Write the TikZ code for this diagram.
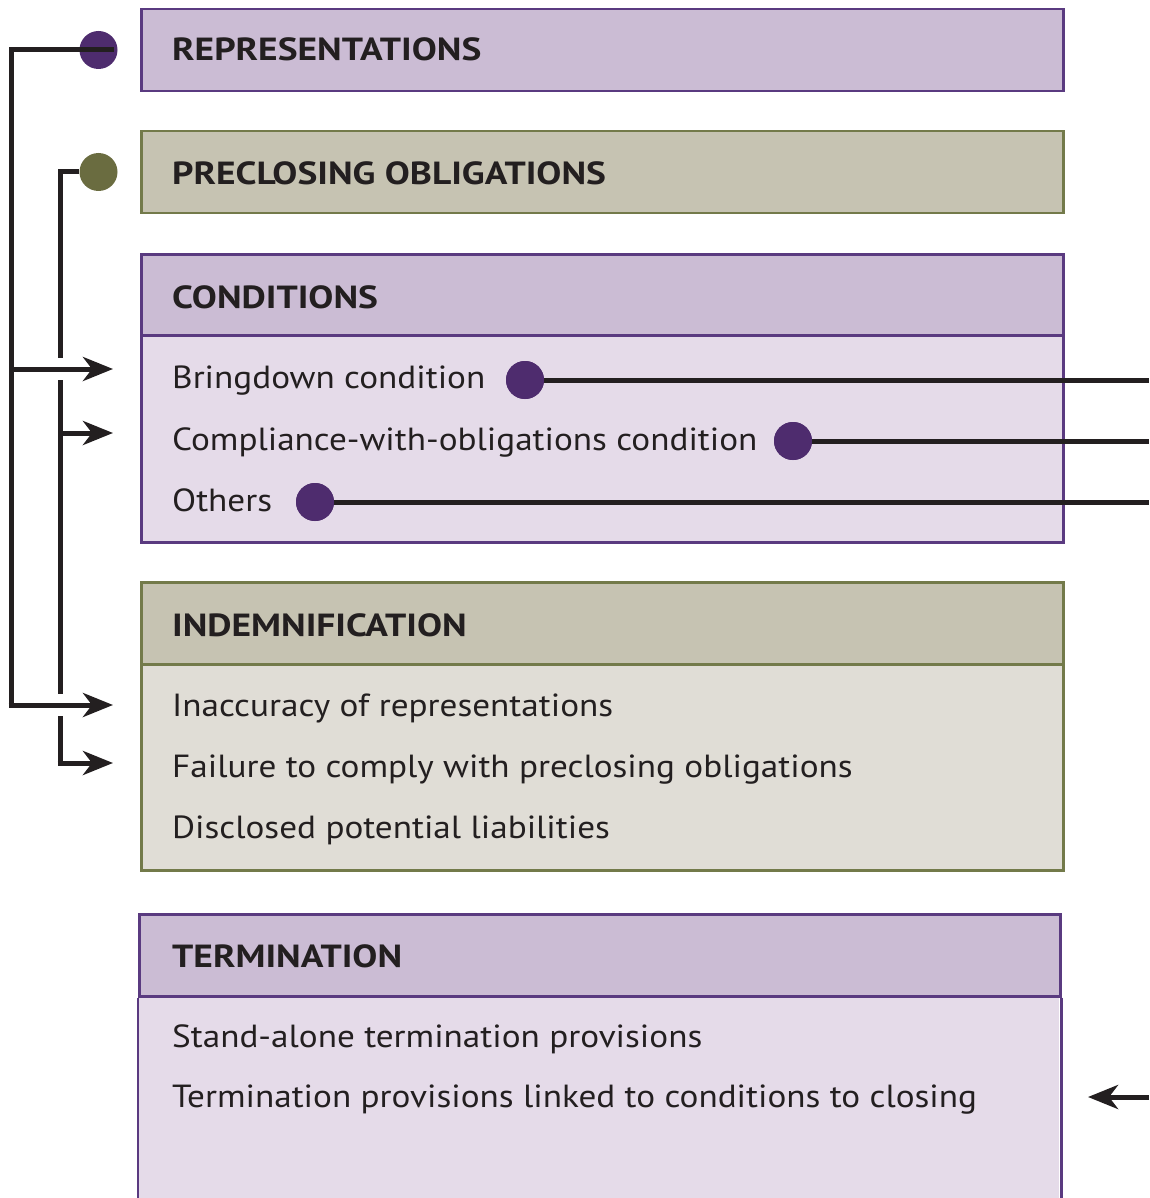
\documentclass[tikz,border=0pt]{standalone}
\usepackage{fontspec}
\setmainfont{PT Sans}[FakeStretch=1.10, BoldFeatures={FakeStretch=1.17}]
\usetikzlibrary{arrows.meta}
\definecolor{purB}{HTML}{5A3A80}
\definecolor{purD}{HTML}{4E2C6E}
\definecolor{purH}{HTML}{CBBCD4}
\definecolor{purL}{HTML}{E5DBE9}
\definecolor{oliB}{HTML}{737A4A}
\definecolor{oliD}{HTML}{6A6C40}
\definecolor{oliH}{HTML}{C6C3B2}
\definecolor{oliL}{HTML}{E0DDD6}
\definecolor{ink}{HTML}{231F20}
\tikzset{
  box/.style={draw, line width=2.5pt, rectangle, anchor=north west, inner sep=0pt, minimum width=922pt},
  hdr/.style={font=\fontsize{32}{36}\selectfont\bfseries, text=ink, anchor=base west, inner sep=0pt},
  item/.style={font=\fontsize{32}{36}\selectfont, text=ink, anchor=base west, inner sep=0pt},
  dotP/.style={circle, fill=purD, minimum size=38pt, inner sep=0pt},
  dotO/.style={circle, fill=oliD, minimum size=38pt, inner sep=0pt},
  conn/.style={draw=ink, line width=5pt},
  arr/.style={draw=ink, line width=5pt, -{Stealth[length=30pt, width=24pt, inset=9pt]}},
  gap/.style={draw=white, line width=22pt}
}
\begin{document}
\begin{tikzpicture}[x=1pt,y=-1pt]
\useasboundingbox (0,0) rectangle (1149,1198);
% boxes
\node[box, draw=purB, fill=purH, minimum height=82pt] (repbox) at (140,8) {};
\node[box, draw=oliB, fill=oliH, minimum height=82pt] (prebox) at (140,130) {};
\node[box, draw=purB, fill=purL, minimum height=288pt] (conbox) at (140,253) {};
\node[box, draw=purB, fill=purH, minimum height=81pt] (conhdr) at (140,253) {};
\node[box, draw=oliB, fill=oliL, minimum height=288pt] (indbox) at (140,581) {};
\node[box, draw=oliB, fill=oliH, minimum height=82pt] (indhdr) at (140,581) {};
% termination box (runs past bottom edge)
\fill[purL] (138,995) rectangle (1059,1198);
\node[box, draw=purB, fill=purH, minimum width=921pt, minimum height=82pt] (terhdr) at (138,913) {};
\draw[purB, line width=2.5pt] (terhdr.south west) -- ++(0,210);
\draw[purB, line width=2.5pt] (terhdr.south east) -- ++(0,210);
% headings
\node[hdr] (t1) at (172,61) {REPRESENTATIONS};
\node[hdr] (t2) at (172,185) {PRECLOSING OBLIGATIONS};
\node[hdr] (t3) at (172,308) {CONDITIONS};
\node[hdr] (t4) at (172,636) {INDEMNIFICATION};
\node[hdr] (t5) at (172,967) {TERMINATION};
% items
\node[item] (c1) at (172,388) {Bringdown condition};
\node[item] (c2) at (172,450) {Compliance-with-obligations condition};
\node[item] (c3) at (172,511) {Others};
\node[item] (i1) at (172,716) {Inaccuracy of representations};
\node[item] (i2) at (172,777) {Failure to comply with preclosing obligations};
\node[item] (i3) at (172,838) {Disclosed potential liabilities};
\node[item] (s1) at (172,1047) {Stand-alone termination provisions};
\node[item] (s2) at (172,1107) {Termination provisions linked to conditions to closing};
% dots
\node[dotP] (repdot) at (98.5,50) {};
\node[dotO] (predot) at (98.5,172) {};
\node[dotP] (d1) at (525,380) {};
\node[dotP] (d2) at (793,441) {};
\node[dotP] (d3) at (315,502) {};
% coordinates
\coordinate (oL) at (11,50);
\coordinate (iL) at (60,172);
\coordinate (a1) at (113,369);
\coordinate (a2) at (113,433);
\coordinate (a3) at (113,705);
\coordinate (a4) at (113,763);
\coordinate (r1) at (1149,380);
\coordinate (r2) at (1149,441);
\coordinate (r3) at (1149,502);
\coordinate (tin) at (1149,1097);
\coordinate (tout) at (1088,1097);
% inner (preclosing) line
\draw[conn, line join=miter] (predot.west) -- (iL) -- ([yshift=2.5pt]iL |- a4);
\draw[arr] ([xshift=-2.5pt]iL |- a4) -- (a4);
\draw[arr] (iL |- a2) -- (a2);
% gaps where outer branches cross
\draw[gap] ([xshift=-5pt]iL |- a1) -- ([xshift=5pt]iL |- a1);
\draw[gap] ([xshift=-5pt]iL |- a3) -- ([xshift=5pt]iL |- a3);
% outer (representations) line
\draw[conn, line join=miter] ([xshift=15pt]repdot.center) -- (oL) -- ([yshift=2.5pt]oL |- a3);
\draw[arr] ([xshift=-2.5pt]oL |- a3) -- (a3);
\draw[arr] (oL |- a1) -- (a1);
% condition lines
\draw[conn] (d1.center) -- (r1);
\draw[conn] (d2.center) -- (r2);
\draw[conn] (d3.center) -- (r3);
\node[dotP] at (d1) {};
\node[dotP] at (d2) {};
\node[dotP] at (d3) {};
% termination arrow
\draw[arr] (tin) -- (tout);
\end{tikzpicture}
\end{document}
